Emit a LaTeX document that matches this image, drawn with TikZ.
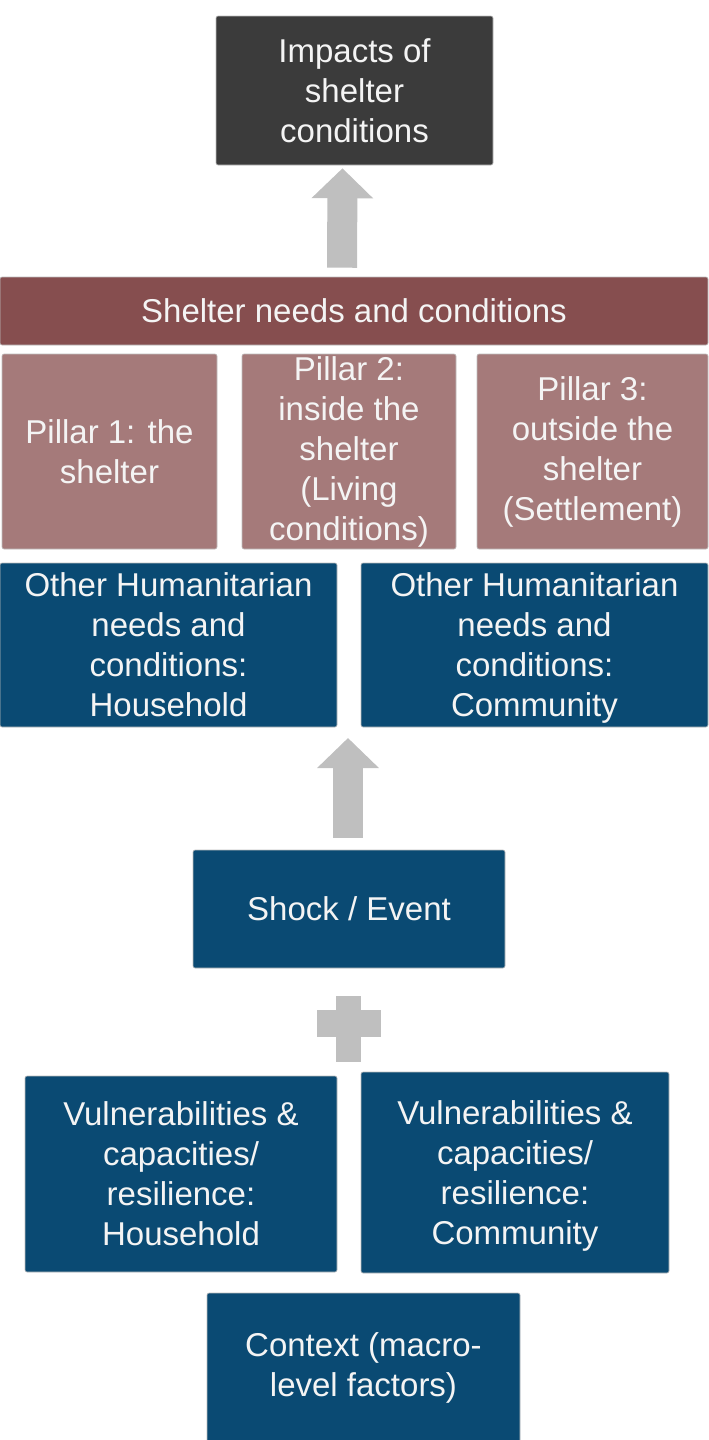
\documentclass[tikz,border=0pt]{standalone}
\usepackage{fontspec}
\setmainfont{Liberation Sans}
\usepackage{tikz}
\usetikzlibrary{positioning,arrows.meta}
\definecolor{inkWhite}{HTML}{f4f4f4}
\definecolor{darkGrey}{HTML}{3b3b3b}
\definecolor{shelterRed}{HTML}{864e4f}
\definecolor{pillarRose}{HTML}{a57a7a}
\definecolor{deepBlue}{HTML}{0a4a73}
\definecolor{arrowGrey}{HTML}{bfbfbf}
\newcommand{\nodepth}[1]{\raisebox{0pt}[\height][0pt]{#1}}
\tikzset{
  boxbase/.style={rectangle,rounded corners=1pt,inner sep=0pt,align=center,
                  text=inkWhite,draw=white!75!black,line width=0.3pt},
  impactbox/.style={boxbase,fill=darkGrey},
  needsbar/.style={boxbase,fill=shelterRed},
  pillarbox/.style={boxbase,fill=pillarRose},
  bluebox/.style={boxbase,fill=deepBlue},
  bigarrow/.style={draw=arrowGrey,line width=15pt,-{Triangle[length=15pt,width=30pt]}}
}

\begin{document}
\begin{tikzpicture}[x=0.5pt,y=-0.5pt,font=\fontsize{16.5}{20}\selectfont]
\useasboundingbox (0,0) rectangle (708,1440);

% top
\node[impactbox,minimum width=138.5pt,minimum height=74.5pt] (impacts) at (354.5,90.5)
  {Impacts of\\shelter\\conditions};
\node[needsbar,minimum width=354pt,minimum height=34pt] (needs) at (354,311)
  {Shelter needs and conditions};

% pillars
\node[pillarbox,minimum width=107.5pt,minimum height=97.5pt] (pillarA) at (109.5,451.5)
  {Pillar 1: the\\shelter};
\node[pillarbox,minimum width=107pt,minimum height=97.5pt] (pillarB) at (349,451.5)
  {Pillar 2:\\inside the\\shelter\\(Living\\conditions)};
\node[pillarbox,minimum width=115.5pt,minimum height=97.5pt] (pillarC) at (592.5,451.5)
  {Pillar 3:\\outside the\\shelter\\(Settlement)};

% other needs
\node[bluebox,minimum width=168.5pt,minimum height=82pt] (otherHH) at (168.5,645)
  {Other Humanitarian\\needs and\\conditions:\\Household};
\node[bluebox,minimum width=173.5pt,minimum height=82pt] (otherCom) at (534.5,645)
  {Other Humanitarian\\needs and\\conditions:\\\nodepth{Community}};
\coordinate (otherGap) at (348,738);

% shock and vulnerabilities
\node[bluebox,minimum width=156pt,minimum height=59pt] (shock) at (349,909)
  {Shock / Event};
\node[bluebox,minimum width=156pt,minimum height=98pt] (vulnHH) at (181,1174)
  {Vulnerabilities \&\\capacities/\\resilience:\\Household};
\node[bluebox,minimum width=154pt,minimum height=100.5pt] (vulnCom) at (515,1172.5)
  {Vulnerabilities \&\\capacities/\\resilience:\\\nodepth{Community}};
\node[bluebox,minimum width=156.5pt,minimum height=74.5pt] (context) at (363.5,1367.5)
  {Context (macro-\\level factors)};

% arrows and plus
\draw[bigarrow,shorten <=4.5pt,shorten >=1.5pt] ([xshift=-6pt]needs.north) -- ([xshift=-6pt]impacts.south);
\draw[bigarrow,shorten <=6pt] ([xshift=-0.5pt]shock.north) -- (otherGap);
\fill[arrowGrey] (336,996) rectangle (361,1062);
\fill[arrowGrey] (317,1010) rectangle (381,1037);
\end{tikzpicture}
\end{document}
